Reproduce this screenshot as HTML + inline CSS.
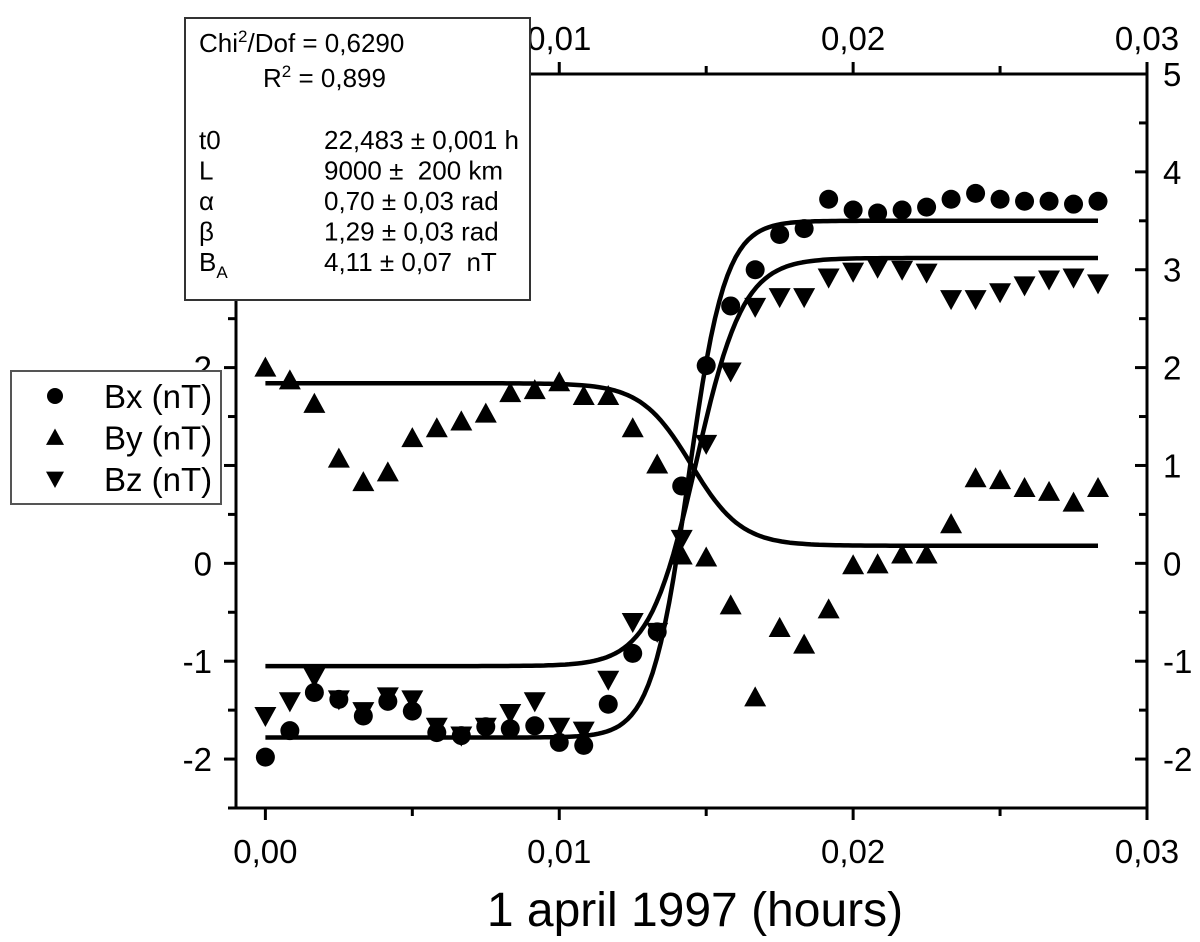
<!DOCTYPE html>
<html><head><meta charset="utf-8"><style>
body{margin:0;background:#fff;}
svg{display:block;font-family:"Liberation Sans",Arial,sans-serif;}
</style></head><body>
<svg id="chart" width="1200" height="942" viewBox="0 0 1200 942"></svg>
<script>
const times = [0,0.000833,0.001667,0.0025,0.003333,0.004167,0.005,0.005833,0.006667,0.0075,0.008333,0.009167,0.01,0.010833,0.011667,0.0125,0.013333,0.014167,0.015,0.015833,0.016667,0.0175,0.018333,0.019167,0.02,0.020833,0.021667,0.0225,0.023333,0.024167,0.025,0.025833,0.026667,0.0275,0.028333];
const bxValues = [-1.98,-1.71,-1.32,-1.39,-1.56,-1.41,-1.51,-1.73,-1.76,-1.67,-1.69,-1.66,-1.83,-1.86,-1.44,-0.92,-0.70,0.79,2.02,2.63,3.00,3.36,3.42,3.72,3.61,3.58,3.61,3.64,3.72,3.78,3.72,3.70,3.70,3.67,3.70];
const byValues = [2.0,1.87,1.63,1.07,0.83,0.93,1.28,1.38,1.45,1.53,1.74,1.77,1.85,1.71,1.71,1.38,1.01,0.08,0.06,-0.43,-1.37,-0.66,-0.83,-0.47,-0.02,-0.01,0.09,0.09,0.40,0.87,0.85,0.77,0.73,0.62,0.77];
const bzValues = [-1.56,-1.41,-1.16,-1.39,-1.51,-1.36,-1.39,-1.67,-1.76,-1.67,-1.53,-1.41,-1.67,-1.71,-1.19,-0.60,-0.70,0.25,1.22,1.96,2.62,2.72,2.72,2.92,2.98,3.02,3.0,2.97,2.70,2.70,2.77,2.84,2.90,2.92,2.86];
// fit model parameters: [start level, end level, center time, width]
const bxFit = [-1.78,3.50,0.01439,0.00125];
const byFit = [1.84,0.18,0.01449,0.0017];
const bzFit = [-1.05,3.12,0.01466,0.0016];
const xTicks = [0,0.01,0.02,0.03];
const xTickLabels = ["0,00","0,01","0,02","0,03"];
const yLeftTicks = [-2,-1,0,1,2];
const yRightTicks = [-2,-1,0,1,2,3,4,5];

const NS="http://www.w3.org/2000/svg";
const svg=document.getElementById('chart');
const L=236,R=1147,T=74,B=808;
const xMin=-0.001,xMax=0.03,yMin=-2.5,yMax=5;
const X=v=>L+(v-xMin)/(xMax-xMin)*(R-L);
const Y=v=>B-(v-yMin)/(yMax-yMin)*(B-T);
function mk(tag,attrs,parent){const e=document.createElementNS(NS,tag);for(const k in attrs)e.setAttribute(k,attrs[k]);(parent||svg).appendChild(e);return e;}
function fs(e,s){e.style.fontSize=s+'px';return e;}

const frame=mk('rect',{x:L,y:T,width:R-L,height:B-T,fill:'none',stroke:'#000','stroke-width':3});



for(let v=0;v<=0.03001;v+=0.005){
  const major=Math.abs(v/0.01-Math.round(v/0.01))<1e-6;
  const len=major?12:8;
  const tb=mk('line',{x1:X(v),x2:X(v),y1:B,y2:B+len,stroke:'#000','stroke-width':3});
  
  
  const tt=mk('line',{x1:X(v),x2:X(v),y1:T,y2:T-len,stroke:'#000','stroke-width':3});
  
  
}
xTicks.forEach((v,i)=>{
  const t=fs(mk('text',{x:X(v),y:B+55,'text-anchor':'middle'}),33);t.textContent=xTickLabels[i];
  
  
  if(i>0){const t2=fs(mk('text',{x:X(v),y:T-24,'text-anchor':'middle'}),33);t2.textContent=xTickLabels[i];
  
  }
});
for(let v=-2.5;v<=5.001;v+=0.5){
  const major=Math.abs(v-Math.round(v))<1e-6;
  const len=major?12:8;
  const a=mk('line',{x1:L,x2:L-len,y1:Y(v),y2:Y(v),stroke:'#000','stroke-width':3});
  
  
  const b=mk('line',{x1:R,x2:R-len,y1:Y(v),y2:Y(v),stroke:'#000','stroke-width':3});
  
  
}
yLeftTicks.forEach(v=>{
  const t=fs(mk('text',{x:L-24,y:Y(v)+12,'text-anchor':'end'}),33);t.textContent=v;
  
  
});
yRightTicks.forEach(v=>{
  const t=fs(mk('text',{x:R+16,y:Y(v)+12,'text-anchor':'start'}),33);t.textContent=v;
  
  
});

function fitPath(p,name){
  let d='';
  for(let k=0;k<=200;k++){const t=times[times.length-1]*k/200;
    const y=p[0]+(p[1]-p[0])/2*(1+Math.tanh((t-p[2])/p[3]));
    d+=(k?'L':'M')+X(t).toFixed(1)+','+Y(y).toFixed(1);}
  const e=mk('path',{d:d,fill:'none',stroke:'#000','stroke-width':4.5,'stroke-linejoin':'round'});
  
  
}
fitPath(bxFit,'bx-fit-line');
fitPath(byFit,'by-fit-line');
fitPath(bzFit,'bz-fit-line');

function circle(cx,cy,parent,r){return mk('circle',{cx:cx,cy:cy,r:r||9.5,fill:'#000'},parent);}
function up(cx,cy,parent,s){s=s||11;return mk('polygon',{points:`${cx-s},${cy+s*0.82} ${cx+s},${cy+s*0.82} ${cx},${cy-s}`,fill:'#000'},parent);}
function down(cx,cy,parent,s){s=s||11;return mk('polygon',{points:`${cx-s},${cy-s*0.82} ${cx+s},${cy-s*0.82} ${cx},${cy+s}`,fill:'#000'},parent);}

times.forEach((t,i)=>{
  const a=circle(X(t),Y(bxValues[i]));
  
  
  const b=up(X(t),Y(byValues[i]));
  
  
  const c=down(X(t),Y(bzValues[i]));
  
  
});

const fb=mk('rect',{x:185,y:18,width:345,height:282,fill:'#fff',stroke:'#333','stroke-width':2});


function txt(x,y,s,name){const t=fs(mk('text',{x:x,y:y}),26);t.innerHTML=s;
  
  return t;}
txt(199,52,'Chi<tspan dy="-10" style="font-size:17px">2</tspan><tspan dy="10">/Dof = 0,6290</tspan>','chi2-dof');
txt(263,87,'R<tspan dy="-10" style="font-size:17px">2</tspan><tspan dy="10"> = 0,899</tspan>','r-squared');
const rows=[['t0','22,483 ± 0,001 h'],['L','9000 ±  200 km'],['α','0,70 ± 0,03 rad'],['β','1,29 ± 0,03 rad'],['B<tspan dy="7" style="font-size:17px">A</tspan>','4,11 ± 0,07  nT']];
rows.forEach((r,i)=>{const y=149+i*30.5;
  txt(199,y,r[0],'fit-param-name');
  const v=txt(324,y,'','fit-param-value');v.textContent=r[1];v.style.whiteSpace='pre';});

const lg=mk('rect',{x:11,y:371,width:210,height:133,fill:'#fff',stroke:'#555','stroke-width':2});


const legendItems=[['Bx (nT)',circle,'legend-bx'],['By (nT)',up,'legend-by'],['Bz (nT)',down,'legend-bz']];
legendItems.forEach((it,i)=>{const cy=396+i*41.5;
  const m=it[1](55,cy,null,it[1]===circle?8:9);
  
  
  const t=fs(mk('text',{x:104,y:cy+12}),33);t.textContent=it[0];
  
  
});

const xl=fs(mk('text',{x:695,y:926,'text-anchor':'middle'}),48);xl.textContent='1 april 1997 (hours)';


</script>
</body></html>
